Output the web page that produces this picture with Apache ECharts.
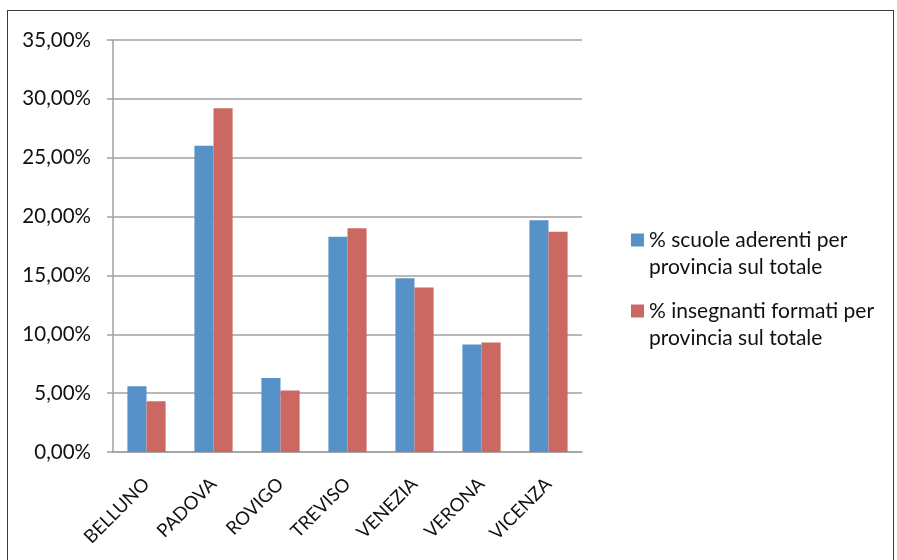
<!DOCTYPE html>
<html>
<head>
<meta charset="utf-8">
<script src="https://cdn.jsdelivr.net/npm/echarts@6/dist/echarts.min.js"></script>
<style>
html,body{margin:0;padding:0;background:#fff;}
#chart{width:897px;height:560px;}
#frame{position:absolute;left:7px;top:10px;width:887px;height:560px;border:1px solid #3a3a3a;box-sizing:border-box;pointer-events:none;}
</style>
</head>
<body>
<div id="chart"></div>
<div id="frame"></div>
<script>
const categories = ['BELLUNO','PADOVA','ROVIGO','TREVISO','VENEZIA','VERONA','VICENZA'];
const seriesNames = ['% scuole aderenti per provincia sul totale','% insegnanti formati per provincia sul totale'];
const scuole = [5.59, 26.02, 6.29, 18.28, 14.77, 9.13, 19.68];
const insegnanti = [4.31, 29.2, 5.22, 19.0, 13.98, 9.30, 18.71];
const yTicks = {min: 0, max: 35, interval: 5};

const FONT = 'Lato, "Open Sans", sans-serif';
const LH = 27;
function legendOf(name, top) {
  return {
    data: [name],
    orient: 'vertical',
    left: 626,
    top: top,
    itemWidth: 13,
    itemHeight: 13,
    icon: 'rect',
    formatter: n => '\n' + n.replace(' per ', ' per\n'),
    textStyle: {fontFamily: FONT, fontSize: 21, color: '#111', lineHeight: LH}
  };
}
const chart = echarts.init(document.getElementById('chart'));
chart.setOption({
  animation: false,
  grid: {left: 113, right: 315, top: 40, bottom: 108},
  legend: [legendOf(seriesNames[0], 235 - 1.5 * LH), legendOf(seriesNames[1], 306 - 1.5 * LH)],
  xAxis: {
    type: 'category',
    data: categories,
    axisLine: {lineStyle: {color: '#a0a0a0', width: 1.5}},
    axisTick: {length: 6, lineStyle: {color: '#a0a0a0', width: 1.5}},
    axisLabel: {rotate: 45, margin: 29, fontFamily: FONT, fontSize: 18.5, color: '#111', interval: 0}
  },
  yAxis: {
    type: 'value',
    min: yTicks.min, max: yTicks.max, interval: yTicks.interval,
    axisLine: {show: true, lineStyle: {color: '#a0a0a0', width: 1.5}},
    axisTick: {show: true, inside: false, length: 6, lineStyle: {color: '#a0a0a0', width: 1.5}},
    splitLine: {lineStyle: {color: '#a0a0a0', width: 1.5}},
    axisLabel: {margin: 22, fontFamily: FONT, fontSize: 20.5, color: '#111',
      formatter: v => v.toFixed(2).replace('.', ',') + '%'}
  },
  series: [
    {name: seriesNames[0], type: 'bar', data: scuole, barGap: '0%', barCategoryGap: '43%',
     itemStyle: {color: '#5692c8'}},
    {name: seriesNames[1], type: 'bar', data: insegnanti, barGap: '0%', barCategoryGap: '43%',
     itemStyle: {color: '#cb6862'}}
  ]
});
</script>
</body>
</html>
